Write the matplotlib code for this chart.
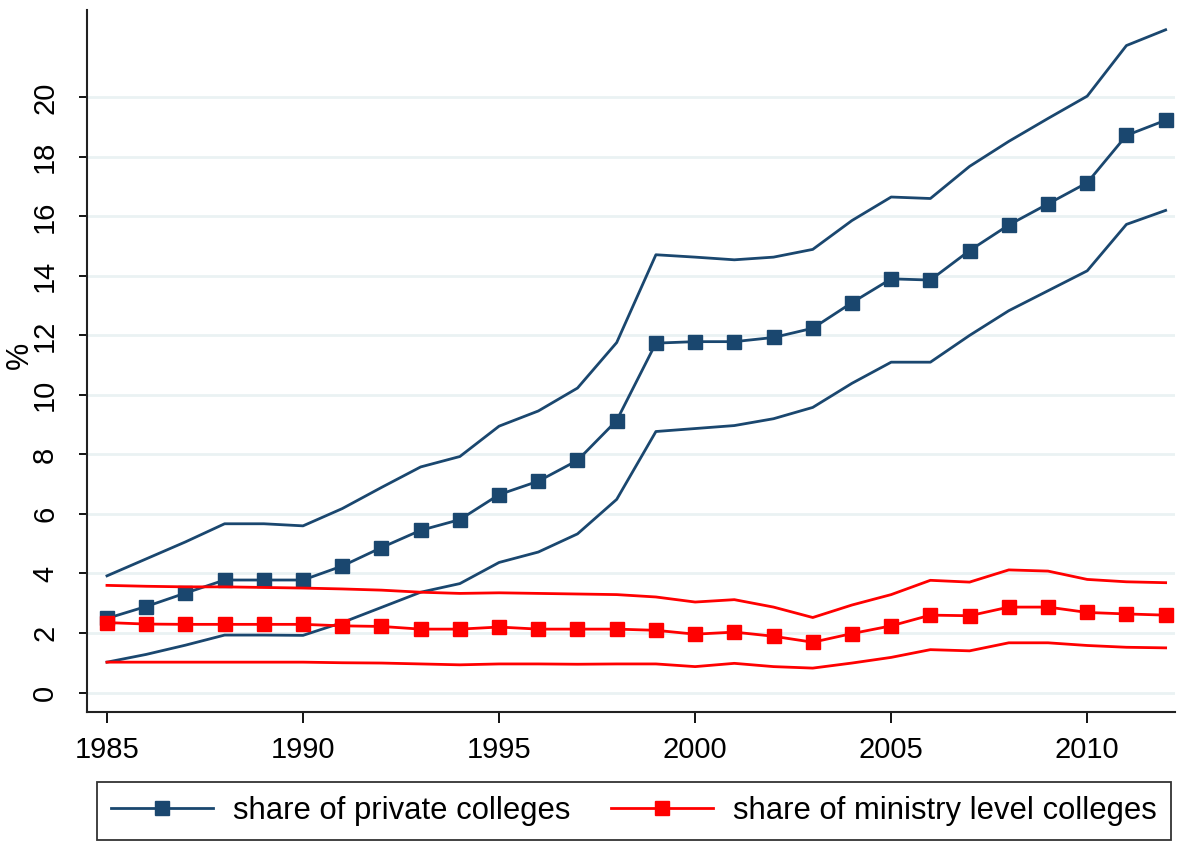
import numpy as np
import matplotlib
matplotlib.use('Agg')
import matplotlib.pyplot as plt

plt.rcParams['font.family'] = ['Liberation Sans', 'DejaVu Sans']

years = list(range(1985, 2013))

# share of private colleges: estimate with upper / lower bounds
private_mid = [2.49, 2.89, 3.34, 3.78, 3.78, 3.78, 4.25, 4.87, 5.45, 5.81,
               6.65, 7.10, 7.80, 9.14, 11.74, 11.79, 11.79, 11.93, 12.24, 13.10,
               13.90, 13.86, 14.85, 15.71, 16.42, 17.13, 18.72, 19.23]
private_hi = [3.92, 4.49, 5.06, 5.67, 5.67, 5.60, 6.18, 6.89, 7.58, 7.93,
              8.95, 9.46, 10.23, 11.76, 14.71, 14.63, 14.54, 14.63, 14.89, 15.86,
              16.65, 16.60, 17.68, 18.52, 19.29, 20.04, 21.74, 22.27]
private_lo = [1.02, 1.28, 1.59, 1.93, 1.93, 1.92, 2.35, 2.86, 3.37, 3.66,
              4.37, 4.72, 5.33, 6.49, 8.77, 8.87, 8.97, 9.20, 9.58, 10.39,
              11.10, 11.10, 12.00, 12.83, 13.50, 14.17, 15.73, 16.20]

# share of ministry level colleges
ministry_mid = [2.35, 2.30, 2.29, 2.29, 2.29, 2.29, 2.24, 2.22, 2.13, 2.13,
                2.20, 2.13, 2.13, 2.13, 2.09, 1.96, 2.03, 1.89, 1.69, 1.98,
                2.24, 2.60, 2.58, 2.87, 2.87, 2.69, 2.64, 2.60]
ministry_hi = [3.60, 3.57, 3.55, 3.55, 3.53, 3.51, 3.48, 3.44, 3.37, 3.33,
               3.35, 3.33, 3.31, 3.29, 3.21, 3.04, 3.12, 2.87, 2.52, 2.94,
               3.29, 3.77, 3.71, 4.12, 4.08, 3.80, 3.72, 3.69]
ministry_lo = [1.02, 1.02, 1.02, 1.02, 1.02, 1.02, 1.00, 0.99, 0.96, 0.93,
               0.96, 0.96, 0.95, 0.96, 0.96, 0.87, 0.98, 0.87, 0.82, 0.99,
               1.18, 1.44, 1.40, 1.67, 1.67, 1.58, 1.52, 1.50]

navy = '#1a476f'
red = '#ff0000'

fig = plt.figure(figsize=(11.85, 8.44), dpi=100)
ax = fig.add_axes([0.0734, 0.1564, 0.9182, 0.8316])

# gridlines
for g in range(0, 21, 2):
    ax.axhline(g, color='#eaf2f3', lw=2, zorder=0)

ax.plot(years, private_hi, color=navy, lw=2)
ax.plot(years, private_lo, color=navy, lw=2)
l1, = ax.plot(years, private_mid, color=navy, lw=2, marker='s', ms=10,
              label='share of private colleges')
ax.plot(years, ministry_hi, color=red, lw=2)
ax.plot(years, ministry_lo, color=red, lw=2)
l2, = ax.plot(years, ministry_mid, color=red, lw=2, marker='s', ms=10,
              label='share of ministry level colleges')

ax.set_xlim(1984.49, 2012.24)
ax.set_ylim(-0.655, 22.93)
ax.set_xticks(range(1985, 2011, 5))
ax.set_yticks(range(0, 21, 2))

for s in ['top', 'right']:
    ax.spines[s].set_visible(False)
for s in ['left', 'bottom']:
    ax.spines[s].set_linewidth(1.5)
    ax.spines[s].set_color('#222222')

ax.tick_params(axis='x', length=8, width=1.3, pad=9, labelsize=21)
ax.tick_params(axis='y', length=6, width=1.3, pad=14, labelsize=21)
for t in ax.get_yticklabels():
    t.set_rotation(90)
    t.set_va('center')

# "%" axis title, placed by hand near left edge
fig.text(20 / 1185, 1 - 355 / 844, '%', rotation=90, fontsize=22,
         ha='center', va='center')

leg = fig.legend(handles=[l1, l2], ncol=2, loc='lower left',
                 bbox_to_anchor=(97 / 1185, 4 / 844),
                 fontsize=22.3, frameon=True, fancybox=False, edgecolor='black',
                 handlelength=3.3, handletextpad=0.65, borderaxespad=0,
                 borderpad=0.45, columnspacing=1.3)
leg.get_frame().set_linewidth(1.3)

fig.savefig('out.png', dpi=100)
